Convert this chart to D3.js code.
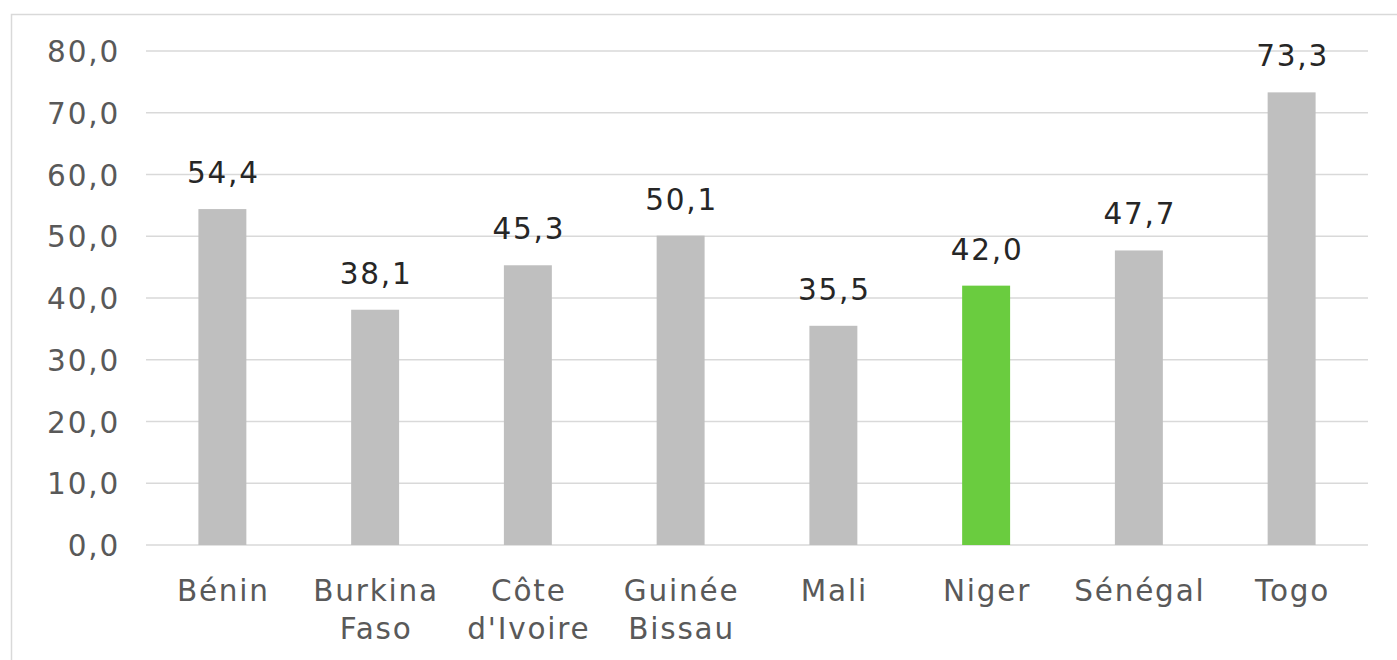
<!DOCTYPE html>
<html><head><meta charset="utf-8">
<script src="https://cdn.jsdelivr.net/npm/d3@7"></script>
<style>
html,body{margin:0;padding:0;background:#fff;}
svg{display:block;font-family:"DejaVu Sans",Verdana,sans-serif;}
svg text{letter-spacing:1.8px;}
</style></head>
<body>
<svg id="chart" width="1397" height="660"></svg>
<script>
const categories = [["Bénin"],["Burkina","Faso"],["Côte","d'Ivoire"],["Guinée","Bissau"],["Mali"],["Niger"],["Sénégal"],["Togo"]];
const values = [54.4, 38.1, 45.3, 50.1, 35.5, 42.0, 47.7, 73.3];
const highlight = [false,false,false,false,false,true,false,false];
const yTicks = [0,10,20,30,40,50,60,70,80];

const svg = d3.select("#chart");
const fmt = v => v.toFixed(1).replace(".", ",");
const FS = 29.5;

// outer frame
svg.append("rect").attr("x",11.5).attr("y",14.5).attr("width",1400).attr("height",660)
  .attr("fill","none").attr("stroke","#d9d9d9").attr("stroke-width",1.5);

const x = d3.scaleBand().domain(d3.range(categories.length)).range([146,1368]).paddingInner(0.686).paddingOuter(0.343);
const y = d3.scaleLinear().domain([0,80]).range([545,51]);

// gridlines
svg.append("g").selectAll("line").data(yTicks).join("line")
  .attr("x1",146).attr("x2",1368)
  .attr("y1",d=>y(d)).attr("y2",d=>y(d))
  .attr("stroke","#d9d9d9").attr("stroke-width",1.5);

// y axis labels
const yAxis = d3.axisLeft(y).tickValues(yTicks).tickFormat(fmt).tickSize(0).tickPadding(0);
const yg = svg.append("g").attr("transform","translate(120,0)").call(yAxis);
yg.select(".domain").remove();
yg.selectAll("text").attr("font-size",FS).attr("fill","#595959").attr("font-family","DejaVu Sans, Verdana, sans-serif").attr("dy","0.36em");

// bars
svg.append("g").selectAll("rect").data(values).join("rect")
  .attr("x",(d,i)=>x(i)).attr("width",x.bandwidth())
  .attr("y",d=>y(d)).attr("height",d=>y(0)-y(d))
  .attr("fill",(d,i)=>highlight[i]?"#6acc3f":"#bfbfbf");

// value labels
svg.append("g").selectAll("text").data(values).join("text")
  .attr("x",(d,i)=>x(i)+x.bandwidth()/2+1).attr("y",d=>y(d)-26)
  .attr("text-anchor","middle").attr("font-size",FS).attr("fill","#262626")
  .text(fmt);

// x axis labels
const xg = svg.append("g");
categories.forEach((lines,i)=>{
  const cx = x(i)+x.bandwidth()/2+1;
  const t = xg.append("text").attr("x",cx).attr("y",601)
    .attr("text-anchor","middle").attr("font-size",FS).attr("fill","#595959");
  lines.forEach((l,j)=>{
    t.append("tspan").attr("x",cx).attr("dy",j===0?0:38).text(l);
  });
});
</script>
</body></html>
